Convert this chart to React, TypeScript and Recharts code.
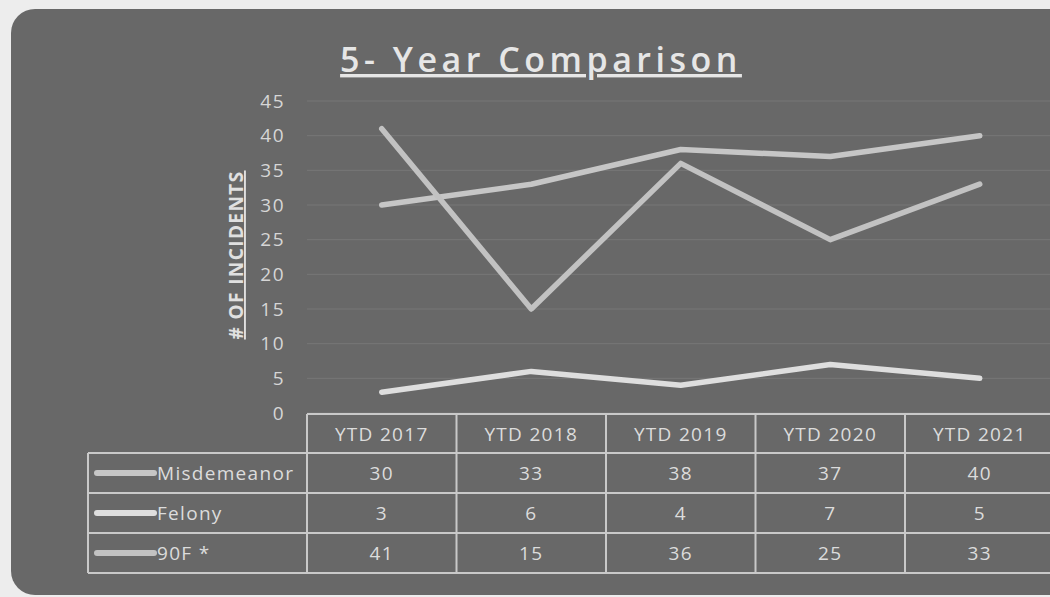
import { LineChart, Line, YAxis, XAxis, CartesianGrid } from "recharts"

const categories = ["YTD 2017", "YTD 2018", "YTD 2019", "YTD 2020", "YTD 2021"]
const misdemeanor = [30, 33, 38, 37, 40]
const felony = [3, 6, 4, 7, 5]
const ninetyF = [41, 15, 36, 25, 33]
const yTicks = [0, 5, 10, 15, 20, 25, 30, 35, 40, 45]

const series = [
  { key: "misdemeanor", name: "Misdemeanor", values: misdemeanor, color: "#c6c6c6" },
  { key: "felony", name: "Felony", values: felony, color: "#dedede" },
  { key: "ninetyF", name: "90F *", values: ninetyF, color: "#c2c2c2" },
]

const data = categories.map((year, i) => ({
  year,
  misdemeanor: misdemeanor[i],
  felony: felony[i],
  ninetyF: ninetyF[i],
}))

const FONT = "'Open Sans', 'Noto Sans', sans-serif"
const TEXT = "#dcdcdc"
const RULE = "#c9c9c9"

// table geometry, kept in line with the plot area below
const PLOT_LEFT = 307
const COL_W = 149.5
const TABLE_LEFT = 88
const HEADER_TOP = 414
const ROW_TOPS = [453, 493, 533, 573]

function DataTable() {
  const right = PLOT_LEFT + COL_W * categories.length
  return (
    <svg
      width={1050}
      height={597}
      style={{ position: "absolute", left: 0, top: 0, pointerEvents: "none" }}
    >
      <text
        x={541}
        y={72}
        textAnchor="middle"
        fill="#e6e6e6"
        fontSize={34}
        fontWeight={600}
        letterSpacing={4.5}
        style={{ fontFamily: FONT, textDecoration: "underline" }}
      >
        5- Year Comparison
      </text>
      <text
        x={0}
        y={0}
        transform="translate(243 255) rotate(-90)"
        textAnchor="middle"
        fill="#e0e0e0"
        fontSize={19}
        fontWeight={700}
        letterSpacing={1.4}
        style={{ fontFamily: FONT, textDecoration: "underline" }}
      >
        # OF INCIDENTS
      </text>

      <g stroke={RULE} strokeWidth={2}>
        <line x1={PLOT_LEFT} x2={right} y1={HEADER_TOP} y2={HEADER_TOP} />
        {ROW_TOPS.map((y) => (
          <line key={y} x1={TABLE_LEFT} x2={right} y1={y} y2={y} />
        ))}
        <line x1={TABLE_LEFT} x2={TABLE_LEFT} y1={ROW_TOPS[0]} y2={ROW_TOPS[3]} />
        {categories.map((_, i) => (
          <line
            key={i}
            x1={PLOT_LEFT + COL_W * i}
            x2={PLOT_LEFT + COL_W * i}
            y1={HEADER_TOP}
            y2={ROW_TOPS[3]}
          />
        ))}
      </g>

      <g fill={TEXT} fontSize={19} style={{ fontFamily: FONT }} letterSpacing={1.3}>
        {categories.map((c, i) => (
          <text
            key={c}
            x={PLOT_LEFT + COL_W * (i + 0.5)}
            y={(HEADER_TOP + ROW_TOPS[0]) / 2}
            textAnchor="middle"
            dominantBaseline="central"
          >
            {c}
          </text>
        ))}
        {series.map((s, r) => {
          const cy = ROW_TOPS[r] + 20
          return (
            <g key={s.key}>
              <line
                x1={97}
                x2={154}
                y1={cy}
                y2={cy}
                stroke={s.color}
                strokeWidth={6}
                strokeLinecap="round"
              />
              <text x={157} y={cy} dominantBaseline="central">
                {s.name}
              </text>
              {s.values.map((v, i) => (
                <text
                  key={i}
                  x={PLOT_LEFT + COL_W * (i + 0.5)}
                  y={cy}
                  textAnchor="middle"
                  dominantBaseline="central"
                >
                  {v}
                </text>
              ))}
            </g>
          )
        })}
      </g>
    </svg>
  )
}

export default function App() {
  return (
    <div
      style={{
        position: "absolute",
        left: 0,
        top: 0,
        width: 1050,
        height: 597,
        overflow: "hidden",
        background: "#ededed",
      }}
    >
      <div
        style={{
          position: "absolute",
          left: 11,
          top: 9,
          width: 1120,
          height: 586,
          borderRadius: 24,
          background: "#686868",
        }}
      />
      <div style={{ position: "absolute", left: 0, top: 0 }}>
        <LineChart
          width={1060}
          height={597}
          data={data}
          margin={{ top: 101, right: 1060 - PLOT_LEFT - COL_W * 5, bottom: 184, left: 0 }}
        >
          <CartesianGrid vertical={false} stroke="#777777" strokeWidth={1} />
          <XAxis
            dataKey="year"
            hide
            padding={{ left: COL_W / 2, right: COL_W / 2 }}
          />
          <YAxis
            width={PLOT_LEFT}
            domain={[0, 45]}
            ticks={yTicks}
            interval={0}
            axisLine={false}
            tickLine={false}
            tickMargin={16}
            tick={{ fill: "#d6d6d6", fontSize: 19, fontFamily: FONT, letterSpacing: 1.5 }}
          />
          {series.map((s) => (
            <Line
              key={s.key}
              dataKey={s.key}
              name={s.name}
              type="linear"
              stroke={s.color}
              strokeWidth={5.5}
              strokeLinecap="round"
              strokeLinejoin="round"
              dot={false}
              activeDot={false}
              isAnimationActive={false}
            />
          ))}
        </LineChart>
      </div>
      <DataTable />
    </div>
  )
}
